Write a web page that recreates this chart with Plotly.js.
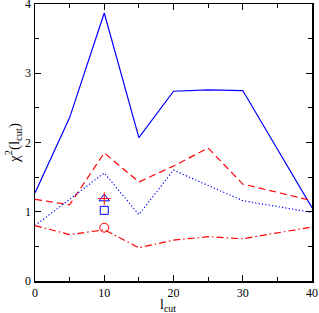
<!DOCTYPE html>
<html><head><meta charset="utf-8">
<script src="https://cdn.plot.ly/plotly-3.0.1.min.js"></script>
<style>html,body{margin:0;padding:0;background:#fff}#c{width:319px;height:313px}</style>
</head><body><div id="c"></div>
<script>
const xSolid = [0, 5, 10, 15, 20, 25, 30, 40];
const ySolid = [1.27, 2.36, 3.87, 2.07, 2.74, 2.76, 2.75, 1.06];
const xDash = [0, 5, 10, 15, 20, 25, 30, 40];
const yDash = [1.18, 1.10, 1.85, 1.43, 1.66, 1.92, 1.40, 1.16];
const xDot = [0, 10, 15, 20, 30, 40];
const yDot = [0.80, 1.56, 0.96, 1.60, 1.16, 0.99];
const xDashDot = [0, 5, 10, 15, 20, 25, 30, 40];
const yDashDot = [0.80, 0.67, 0.74, 0.48, 0.59, 0.64, 0.61, 0.78];
const xMark = [10];
const yTriangle = [1.19];
const yPlus = [1.19];
const ySquare = [1.02];
const yCircle = [0.77];
const xRange = [0, 40];
const yRange = [0, 4];
const xTitle = 'l<sub>cut</sub>';
const yTitle = 'χ<sup>2</sup>(l<sub>cut</sub>)';

const F = 'Liberation Serif, Times New Roman, serif';
const traces = [
  {x: xSolid, y: ySolid, mode: 'lines', line: {color: '#0000ff', width: 1.2}},
  {x: xDash, y: yDash, mode: 'lines', line: {color: '#ff0000', width: 1.2, dash: '7px,4px'}},
  {x: xDot, y: yDot, mode: 'lines', line: {color: '#0000ff', width: 1.2, dash: '1.2px,2.2px'}},
  {x: xDashDot, y: yDashDot, mode: 'lines', line: {color: '#ff0000', width: 1.2, dash: '7px,3px,1.5px,3px'}},
  {x: xMark, y: yTriangle, mode: 'markers', marker: {symbol: 'triangle-up-open', size: 9, color: '#0000ff', line: {width: 1}}},
  {x: xMark, y: yPlus, mode: 'markers', marker: {symbol: 'cross-thin-open', size: 9, color: '#ff0000', line: {width: 1, color: '#ff0000'}}},
  {x: xMark, y: ySquare, mode: 'markers', marker: {symbol: 'square-open', size: 8, color: '#0000ff', line: {width: 1}}},
  {x: xMark, y: yCircle, mode: 'markers', marker: {symbol: 'circle-open', size: 9, color: '#ff0000', line: {width: 1}}},
  {x: xRange, y: yRange, xaxis: 'x2', yaxis: 'y2', mode: 'markers', marker: {opacity: 0}, hoverinfo: 'skip'}
];
const axBase = {
  showgrid: false, zeroline: false, showline: true, linecolor: '#000', linewidth: 1.5,
  ticks: 'inside', ticklen: 6, tickwidth: 1, tickcolor: '#000',
  tickfont: {family: F, size: 12, color: '#000'}, ticklabeloverflow: 'allow'
};
const layout = {
  width: 319, height: 313,
  margin: {l: 35, r: 7, t: 4, b: 32},
  paper_bgcolor: '#fff', plot_bgcolor: '#fff',
  showlegend: false,
  xaxis: Object.assign({}, axBase, {
    range: xRange, dtick: 10, tick0: 0,
    minor: {dtick: 5, ticks: 'inside', ticklen: 4, tickcolor: '#000', showgrid: false}
  }),
  yaxis: Object.assign({}, axBase, {
    range: yRange, dtick: 1, tick0: 0,
    minor: {dtick: 0.5, ticks: 'inside', ticklen: 4, tickcolor: '#000', showgrid: false},
    title: {text: yTitle, font: {family: F, size: 15, color: '#000'}, standoff: 2}
  }),
  xaxis2: Object.assign({}, axBase, {
    overlaying: 'x', side: 'top', anchor: 'y', range: xRange, dtick: 10, tick0: 0, showticklabels: false,
    minor: {dtick: 5, ticks: 'inside', ticklen: 4, tickcolor: '#000', showgrid: false}
  }),
  yaxis2: Object.assign({}, axBase, {
    overlaying: 'y', side: 'right', anchor: 'x', range: yRange, dtick: 1, tick0: 0, showticklabels: false,
    minor: {dtick: 0.5, ticks: 'inside', ticklen: 4, tickcolor: '#000', showgrid: false}
  }),
  annotations: [{
    text: xTitle, xref: 'paper', yref: 'paper', x: 0.48, y: -0.052,
    xanchor: 'center', yanchor: 'top', showarrow: false,
    font: {family: F, size: 14, color: '#000'}
  }]
};
Plotly.newPlot('c', traces, layout, {displayModeBar: false, staticPlot: true});
</script></body></html>
